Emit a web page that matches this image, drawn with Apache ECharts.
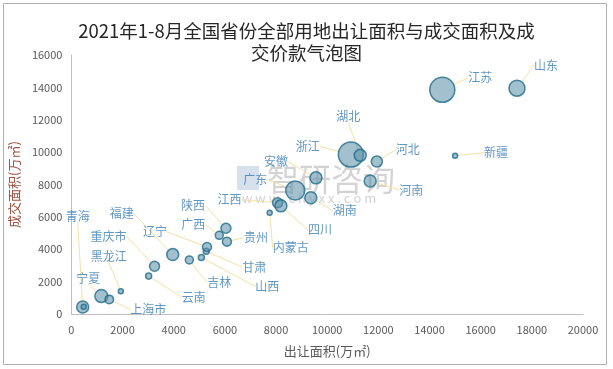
<!DOCTYPE html>
<html>
<head>
<meta charset="utf-8">
<script src="https://cdn.jsdelivr.net/npm/echarts@6/dist/echarts.min.js"></script>
<style>html,body{margin:0;padding:0;background:#fff}#c{width:613px;height:369px}</style>
</head>
<body>
<div id="c"></div>
<script>
// ---- data ----
const provinces = ['青海','西藏','宁夏','上海市','黑龙江','云南','重庆市','福建','吉林','山西','甘肃','辽宁','广西','陕西','贵州','内蒙古','江西','四川','广东','湖南','安徽','河南','浙江','湖北','河北','新疆','江苏','山东'];
const transferArea = [440,480,1170,1480,1930,3020,3250,3960,4610,5080,5270,5300,5780,6040,6080,7750,8060,8190,8750,9360,9560,11680,10925,11290,11940,15000,14500,17420];
const dealArea = [430,450,1110,900,1400,2340,2950,3670,3340,3490,3880,4145,4860,5300,4470,6260,6870,6680,7630,7180,8410,8220,9850,9800,9420,9780,13850,13950];
const dealPrice = [1150,200,1350,590,200,290,800,1150,510,290,290,650,510,800,650,200,800,1150,2890,1150,1150,1150,5000,1150,970,200,5000,2050];
const xTicks = [0,2000,4000,6000,8000,10000,12000,14000,16000,18000,20000];
const yTicks = [0,2000,4000,6000,8000,10000,12000,14000,16000];
const hiddenLabels = ['西藏'];

// ---- layout (label offsets in px, relative to bubble centre) ----
const labelOffset = {
  '青海':[-5,-91],'宁夏':[-13,-18],'上海市':[39,10],'黑龙江':[-12,-35],'重庆市':[-46,-30],
  '云南':[45,21],'福建':[-51,-41],'辽宁':[-52,-15],'甘肃':[48,16],'山西':[66,29],'吉林':[30,23],
  '陕西':[-33,-23],'广西':[-26,-11],'贵州':[29,-4],'江西':[-48,-3],'四川':[39,24],'内蒙古':[21,35],
  '广东':[-40,-11],'湖南':[34,13],'安徽':[-40,-16],'浙江':[-43,-8],'湖北':[-12,-39],'河北':[31,-12],
  '河南':[41,9],'江苏':[38,-12],'山东':[29,-23],'新疆':[41,-3],'西藏':[0,0]
};

const data = provinces.map((n,i)=>({
  name:n,
  value:[transferArea[i], dealArea[i], dealPrice[i]],
  label:{show: hiddenLabels.indexOf(n) < 0}
}));

const chart = echarts.init(document.getElementById('c'));
const font = '"Noto Sans CJK SC", "Microsoft YaHei", sans-serif';
chart.setOption({
  animation:false,
  title:{
    text:'2021年1-8月全国省份全部用地出让面积与成交面积及成\n交价款气泡图',
    left:'center', top:15,
    textStyle:{fontSize:18.5, fontWeight:'normal', lineHeight:22, color:'#262626', fontFamily:font}
  },
  graphic:[
    {type:'rect', z:-10, shape:{x:3.5,y:3.5,width:603,height:361}, style:{fill:'none', stroke:'#b0b0b0', lineWidth:1}},
    {type:'rect', z:-5, shape:{x:237,y:166,width:22,height:24}, style:{fill:'rgba(175,195,222,0.5)'}},
    {type:'text', z:-5, x:267, y:163, style:{text:'智研咨询', fontSize:32, fill:'rgba(150,150,150,0.42)', fontFamily:font}},
    {type:'text', z:-5, x:242, y:192, style:{text:'w w w . c h y x x . c o m', fontSize:13, fill:'rgba(150,150,150,0.45)', fontFamily:font}}
  ],
  grid:{left:71, right:30, top:55, bottom:55},
  xAxis:{
    type:'value', min:xTicks[0], max:xTicks[xTicks.length-1], interval:2000,
    name:'出让面积(万㎡)', nameLocation:'middle', nameGap:31,
    nameTextStyle:{color:'#595959', fontSize:13, fontFamily:font},
    axisLine:{show:true, lineStyle:{color:'#bfbfbf'}},
    axisTick:{show:false}, splitLine:{show:false},
    axisLabel:{color:'#595959', fontSize:11, margin:10, fontFamily:font, formatter:v=>String(v)}
  },
  yAxis:{
    type:'value', min:yTicks[0], max:yTicks[yTicks.length-1], interval:2000,
    name:'成交面积(万㎡)', nameLocation:'middle', nameGap:48,
    nameTextStyle:{color:'#9c4f3e', fontSize:13, fontFamily:font},
    axisLine:{show:true, lineStyle:{color:'#bfbfbf'}},
    axisTick:{show:false}, splitLine:{show:false},
    axisLabel:{color:'#595959', fontSize:11, margin:9, fontFamily:font, formatter:v=>String(v)}
  },
  series:[{
    type:'scatter',
    data:data,
    symbolSize:function(v){return Math.sqrt(v[2])*0.354;},
    itemStyle:{color:'rgba(91,143,168,0.7)', borderColor:'#1f6b8a', borderWidth:1.5},
    label:{show:true, position:'inside', formatter:'{b}', color:'#3a7db5', fontSize:12, fontFamily:font},
    labelLine:{show:true, lineStyle:{color:'#f7dfa2', width:1}},
    labelLayout:function(p){
      const o = labelOffset[provinces[p.dataIndex]] || [0,0];
      return {dx:o[0], dy:o[1]};
    }
  }]
});
</script>
</body>
</html>
